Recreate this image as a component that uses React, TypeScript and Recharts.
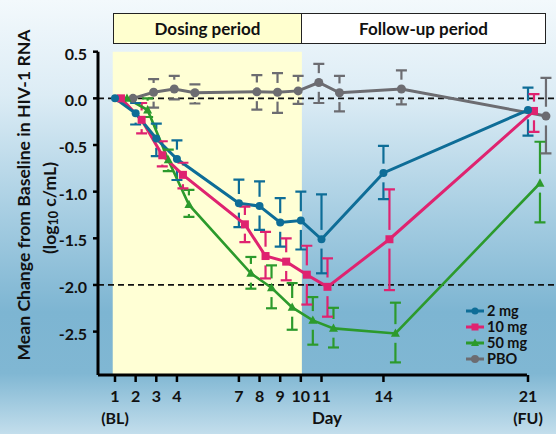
import React from "react";
import {
  ComposedChart,
  Line,
  XAxis,
  YAxis,
  ReferenceLine,
  ReferenceArea,
  ErrorBar,
} from "recharts";

const DAYS = [1, 2, 3, 4, 7, 8, 9, 10, 11, 14, 21];
const TICK_SUB: Record<number, string> = { 1: "(BL)", 21: "(FU)" };
const Y_TICKS = [0.5, 0, -0.5, -1, -1.5, -2, -2.5];

// mean change and error bar ends
const MEAN_2MG = [0, -0.16, -0.43, -0.65, -1.125, -1.155, -1.33, -1.31, -1.51, -0.8, -0.125];
const HI_2MG = [null, -0.05, -0.27, -0.45, -0.87, -0.89, -1.07, -1.0, -1.03, -0.51, 0.115];
const LO_2MG = [null, -0.28, -0.62, -0.875, -1.38, -1.41, -1.59, -1.62, -1.875, -1.08, -0.4];

const MEAN_10MG = [0, -0.23, -0.61, -0.82, -1.35, -1.69, -1.75, -1.89, -2.02, -1.51, -0.135];
const HI_10MG = [null, -0.05, -0.46, -0.69, -1.16, -1.43, -1.5, -1.58, -1.715, -0.975, 0.046];
const LO_10MG = [null, -0.375, -0.73, -0.965, -1.54, -1.93, -1.95, -2.21, -2.34, -2.055, -0.36];

const MEAN_50MG = [0, -0.125, -0.66, -1.14, -1.875, -2.03, -2.24, -2.38, -2.465, -2.52, -0.91];
const HI_50MG = [null, 0.0, -0.55, -0.98, -1.7, -1.79, -1.98, -2.13, -2.245, -2.19, -0.465];
const LO_50MG = [null, -0.2, -0.78, -1.27, -2.04, -2.25, -2.48, -2.64, -2.67, -2.83, -1.33];

const MEAN_PBO = [0, 0.065, 0.1, 0.06, 0.07, 0.065, 0.08, 0.17, 0.06, 0.1, -0.19];
const HI_PBO = [null, 0.205, 0.24, 0.15, 0.25, 0.27, 0.24, 0.37, 0.24, 0.3, 0.22];
const LO_PBO = [null, -0.1, -0.01, -0.055, -0.12, -0.155, -0.06, -0.05, -0.14, -0.065, -0.59];

const X_MIN = 0.177;
const X_MAX = 22.356;
const X_AXIS_END = 20.95;
const Y_MIN = -2.965;
const Y_MAX = 0.5;
const GAP = 0.1; // stem gap around the marker

const FONT = "Lato, 'Noto Sans', sans-serif";

function buildRows(mean: number[], hi: (number | null)[], lo: (number | null)[], shift: number) {
  return DAYS.map((d, i) => {
    const m = mean[i];
    const h = hi[i];
    const l = lo[i];
    const up = h != null && h - m > GAP;
    const dn = l != null && m - l > GAP;
    return {
      x: d + shift,
      y: m,
      hi: h,
      lo: l,
      su: up ? m + GAP : null,
      eu: up ? [0, (h as number) - m - GAP] : null,
      sl: dn ? m - GAP : null,
      el: dn ? [m - GAP - (l as number), 0] : null,
    };
  });
}

type Shape = "circle" | "square" | "triangle";

const SERIES: { name: string; color: string; shape: Shape; size: number; width: number; rows: any[] }[] = [
  { name: "PBO", color: "#6c6c71", shape: "circle", size: 4.5, width: 3, rows: buildRows(MEAN_PBO, HI_PBO, LO_PBO, 0.87) },
  { name: "50 mg", color: "#2c9a2c", shape: "triangle", size: 4.5, width: 2.6, rows: buildRows(MEAN_50MG, HI_50MG, LO_50MG, 0.58) },
  { name: "10 mg", color: "#df2370", shape: "square", size: 4, width: 3, rows: buildRows(MEAN_10MG, HI_10MG, LO_10MG, 0.29) },
  { name: "2 mg", color: "#0e6d97", shape: "circle", size: 4, width: 3, rows: buildRows(MEAN_2MG, HI_2MG, LO_2MG, 0) },
];

function marker(shape: Shape, cx: number, cy: number, s: number, color: string, key?: any) {
  if (shape === "square")
    return <rect key={key} x={cx - s} y={cy - s} width={2 * s} height={2 * s} fill={color} />;
  if (shape === "triangle")
    return (
      <polygon
        key={key}
        points={`${cx},${cy - s * 1.1} ${cx - s},${cy + s * 0.75} ${cx + s},${cy + s * 0.75}`}
        fill={color}
      />
    );
  return <circle key={key} cx={cx} cy={cy} r={s} fill={color} />;
}

const dotFor = (shape: Shape, s: number, color: string) => (p: any) => {
  if (p.cx == null || p.cy == null || p.value == null) return <g key={p.key} />;
  return marker(shape, p.cx, p.cy, s, color, p.key);
};

const capFor = (color: string) => (p: any) => {
  if (p.cx == null || p.cy == null || p.value == null) return <g key={p.key} />;
  return <line key={p.key} x1={p.cx - 5.5} x2={p.cx + 5.5} y1={p.cy} y2={p.cy} stroke={color} strokeWidth={2.2} />;
};

const LABEL_STYLE = { fontFamily: FONT, fontWeight: 700, fontSize: 16, fill: "#111" };

function DayTick({ x, y, payload }: any) {
  const sub = TICK_SUB[payload.value];
  return (
    <g>
      <text x={x} y={y} dy={17.5} textAnchor="middle" style={LABEL_STYLE}>
        {payload.value}
      </text>
      {sub && (
        <text x={x} y={y} dy={39.5} textAnchor="middle" style={LABEL_STYLE}>
          {sub}
        </text>
      )}
    </g>
  );
}

function ValueTick({ x, y, payload }: any) {
  return (
    <text x={x} y={y} dy={8} textAnchor="end" style={LABEL_STYLE}>
      {Number(payload.value).toFixed(1)}
    </text>
  );
}

const LEGEND_ORDER = ["2 mg", "10 mg", "50 mg", "PBO"];

const boxStyle: React.CSSProperties = {
  position: "absolute",
  top: 13,
  height: 31,
  boxSizing: "border-box",
  border: "1.5px solid #222",
  display: "flex",
  alignItems: "center",
  justifyContent: "center",
  fontWeight: 700,
  fontSize: 17,
  color: "#111",
};

export default function App() {
  const hidden = { stroke: "none", isAnimationActive: false, activeDot: false as const, legendType: "none" as const };
  return (
    <div
      style={{
        position: "absolute",
        left: 0,
        top: 0,
        width: 556,
        height: 434,
        overflow: "hidden",
        fontFamily: FONT,
        background:
          "linear-gradient(to bottom, #f3f9fc 0%, #dcecf5 22%, #a9cfe3 48%, #7db5d2 72%, #80b7d3 86%, #c3deec 100%)",
      }}
    >
      {/* period boxes */}
      <div style={{ ...boxStyle, left: 113, width: 189, background: "#ffffcf" }}>Dosing period</div>
      <div style={{ ...boxStyle, left: 301, width: 245, background: "#ffffff" }}>Follow-up period</div>

      <div style={{ position: "absolute", left: 0, top: 0 }}>
        <ComposedChart width={556} height={434} margin={{ top: 51.7, right: 0, left: 0, bottom: 9 }}>
          <XAxis
            type="number"
            dataKey="x"
            domain={[X_MIN, X_MAX]}
            allowDataOverflow
            ticks={DAYS}
            interval={0}
            axisLine={false}
            tickLine={{ stroke: "#000", strokeWidth: 2.5 }}
            tickSize={7}
            height={50}
            tick={<DayTick />}
            label={{
              value: "Day",
              position: "insideBottom",
              offset: 1,
              style: { ...LABEL_STYLE, fontSize: 17 },
            }}
          />
          <YAxis
            type="number"
            domain={[Y_MIN, Y_MAX]}
            allowDataOverflow
            ticks={Y_TICKS}
            interval={0}
            width={98}
            axisLine={{ stroke: "#000", strokeWidth: 3 }}
            tickLine={{ stroke: "#000", strokeWidth: 2.5 }}
            tickSize={5}
            tickMargin={6}
            tick={<ValueTick />}
          />
          <ReferenceArea x1={0.89} x2={10.05} fill="#ffffd5" fillOpacity={1} stroke="none" />
          <ReferenceLine y={0} stroke="#111" strokeWidth={1.8} strokeDasharray="6 4" />
          <ReferenceLine y={-2} stroke="#111" strokeWidth={1.8} strokeDasharray="6 4" />
          <ReferenceLine
            segment={[{ x: X_MIN, y: Y_MIN }, { x: X_AXIS_END, y: Y_MIN }]}
            stroke="#000"
            strokeWidth={3}
            ifOverflow="visible"
          />

          {SERIES.map((s) => [
            <Line key={s.name + "su"} data={s.rows} dataKey="su" dot={false} {...hidden}>
              <ErrorBar dataKey="eu" width={0} stroke={s.color} strokeWidth={2.2} direction="y" />
            </Line>,
            <Line key={s.name + "sl"} data={s.rows} dataKey="sl" dot={false} {...hidden}>
              <ErrorBar dataKey="el" width={0} stroke={s.color} strokeWidth={2.2} direction="y" />
            </Line>,
            <Line key={s.name + "hi"} data={s.rows} dataKey="hi" dot={capFor(s.color)} {...hidden} />,
            <Line key={s.name + "lo"} data={s.rows} dataKey="lo" dot={capFor(s.color)} {...hidden} />,
          ])}

          {SERIES.map((s) => (
            <Line
              key={s.name}
              data={s.rows}
              dataKey="y"
              name={s.name}
              type="linear"
              stroke={s.color}
              strokeWidth={s.width}
              dot={dotFor(s.shape, s.size, s.color)}
              activeDot={false}
              isAnimationActive={false}
            />
          ))}
        </ComposedChart>
      </div>

      {/* y axis title */}
      <svg width={70} height={434} style={{ position: "absolute", left: 0, top: 0 }}>
        <text
          transform="translate(23,195) rotate(-90)"
          textAnchor="middle"
          dominantBaseline="central"
          style={{ fontFamily: FONT, fontWeight: 700, fontSize: 17.6, fill: "#111" }}
        >
          Mean Change from Baseline  in HIV-1 RNA
        </text>
        <text
          transform="translate(49,208) rotate(-90)"
          textAnchor="middle"
          dominantBaseline="central"
          style={{ fontFamily: FONT, fontWeight: 700, fontSize: 17.6, fill: "#111" }}
        >
          (log
          <tspan fontSize={12.5} dy={4}>10</tspan>
          <tspan dy={-4}> c/mL)</tspan>
        </text>
      </svg>

      {/* legend */}
      <div style={{ position: "absolute", left: 466, top: 303 }}>
        {LEGEND_ORDER.map((n) => {
          const s = SERIES.find((q) => q.name === n)!;
          return (
            <div key={n} style={{ display: "flex", alignItems: "center", height: 16, lineHeight: "14px" }}>
              <svg width={19} height={12}>
                <line x1={0} x2={18} y1={6} y2={6} stroke={s.color} strokeWidth={3} />
                {marker(s.shape, 9, 6, s.size - 0.5, s.color)}
              </svg>
              <span style={{ fontWeight: 700, fontSize: 14.5, lineHeight: "14px", color: "#111", marginLeft: 2 }}>
                {n}
              </span>
            </div>
          );
        })}
      </div>
    </div>
  );
}
